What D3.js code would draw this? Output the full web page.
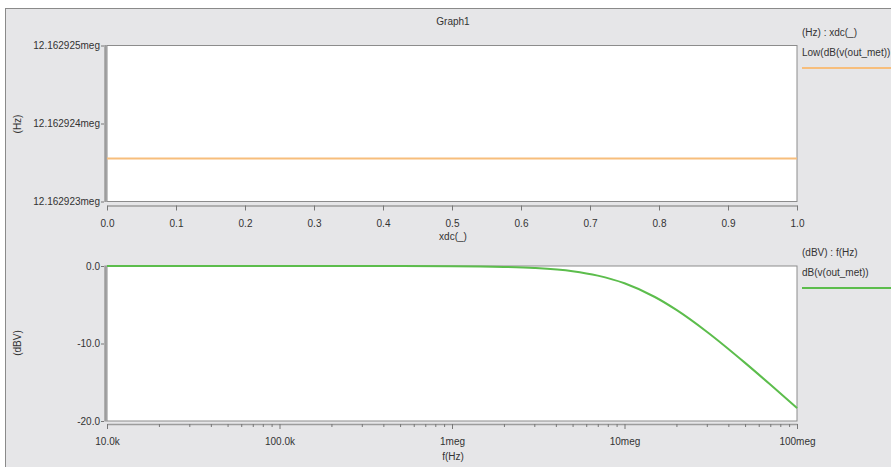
<!DOCTYPE html>
<html>
<head>
<meta charset="utf-8">
<script src="https://cdn.jsdelivr.net/npm/d3@7"></script>
<style>
  body { margin: 0; background: #fff; }
  svg { display: block; font-family: "Liberation Sans", Arial, sans-serif; }
</style>
</head>
<body>
<script>
// Graph1 : sweep result (top) and AC response (bottom)

// top plot data
const xdcVals = [0, 1];
const lowVals = [12162923.55, 12162923.55];
const topXTicks = [0, 0.1, 0.2, 0.3, 0.4, 0.5, 0.6, 0.7, 0.8, 0.9, 1.0];
const topYTicks = [12162923, 12162924, 12162925];

// bottom plot data
const freqs = [1e4, 3e4, 1e5, 3e5, 1e6, 2e6, 3e6, 5e6, 7e6, 1e7, 1.5e7, 2e7, 3e7, 5e7, 7e7, 1e8];
const dbVals = [0, 0, 0, -0.003, -0.03, -0.12, -0.26, -0.67, -1.24, -2.23, -4.0, -5.67, -8.48, -12.5, -15.3, -18.34];
const freqTicks = [1e4, 1e5, 1e6, 1e7, 1e8];
const freqTickLabels = ["10.0k", "100.0k", "1meg", "10meg", "100meg"];
const dbTicks = [0, -10, -20];

const W = 891, H = 467;
const textCol = "#333";
const axisCol = "#9c9c9c";

const svg = d3.select("body").append("svg")
  .attr("width", W)
  .attr("height", H);

// panel
svg.append("rect")
  .attr("x", 5.5).attr("y", 8.5)
  .attr("width", W).attr("height", H)
  .attr("fill", "#e6e6e8")
  .attr("stroke", "#8a8a8a");

svg.append("text")
  .attr("x", 453).attr("y", 25)
  .attr("text-anchor", "middle")
  .attr("font-size", 10)
  .attr("fill", textCol)
  .text("Graph1");

function frame(x0, x1, y0, y1) {
  svg.append("rect")
    .attr("x", x0).attr("y", y0)
    .attr("width", x1 - x0).attr("height", y1 - y0)
    .attr("fill", "#fff")
    .attr("stroke", "#8c8c8c")
    .attr("stroke-width", 1);
  // thick left axis line
  svg.append("line")
    .attr("x1", x0 - 1.5).attr("x2", x0 - 1.5)
    .attr("y1", y0 - 0.5).attr("y2", y1 + 0.5)
    .attr("stroke", axisCol).attr("stroke-width", 2.5);
}

// ---------- top plot ----------
const tx0 = 107, tx1 = 797, ty0 = 45.5, ty1 = 201.5;
frame(tx0, tx1, ty0, ty1);

const xTop = d3.scaleLinear().domain([0, 1]).range([tx0, tx1]);
const yTop = d3.scaleLinear().domain([12162923, 12162925]).range([ty1, ty0]);

const gxTop = svg.append("g")
  .attr("transform", `translate(0,${ty1 + 4})`)
  .call(d3.axisBottom(xTop).tickValues(topXTicks).tickFormat(d => d.toFixed(1)).tickSize(5).tickSizeOuter(0).tickPadding(9));

const gyTop = svg.append("g")
  .attr("transform", `translate(${tx0 - 3},0)`)
  .call(d3.axisLeft(yTop).tickValues(topYTicks)
    .tickFormat(d => (d / 1e6).toFixed(6) + "meg").tickSize(3).tickSizeOuter(0).tickPadding(1));
gyTop.select(".domain").remove();

svg.append("text")
  .attr("x", 453).attr("y", 240)
  .attr("text-anchor", "middle").attr("font-size", 10).attr("fill", textCol)
  .text("xdc(_)");

svg.append("text")
  .attr("transform", "translate(21,124) rotate(-90)")
  .attr("text-anchor", "middle").attr("font-size", 10).attr("fill", textCol)
  .text("(Hz)");

svg.append("path")
  .datum(xdcVals.map((x, i) => [x, lowVals[i]]))
  .attr("fill", "none")
  .attr("stroke", "#f7be7c")
  .attr("stroke-width", 2)
  .attr("d", d3.line().x(d => xTop(d[0])).y(d => yTop(d[1])));

// ---------- bottom plot ----------
const bx0 = 107, bx1 = 797, by0 = 266, by1 = 421;
frame(bx0, bx1, by0, by1);

const xBot = d3.scaleLog().domain([1e4, 1e8]).range([bx0, bx1]);
const yBot = d3.scaleLinear().domain([-20, 0]).range([by1, by0]);

const allFreqTicks = xBot.ticks();
const gxBot = svg.append("g")
  .attr("transform", `translate(0,${by1 + 3})`)
  .call(d3.axisBottom(xBot).tickValues(allFreqTicks)
    .tickFormat(d => {
      const i = freqTicks.indexOf(d);
      return i >= 0 ? freqTickLabels[i] : "";
    })
    .tickSize(5).tickSizeOuter(0).tickPadding(9));
gxBot.selectAll(".tick line")
  .attr("y2", d => freqTicks.indexOf(d) >= 0 ? 5 : 3);

const gyBot = svg.append("g")
  .attr("transform", `translate(${bx0 - 3},0)`)
  .call(d3.axisLeft(yBot).tickValues(dbTicks).tickFormat(d => d.toFixed(1)).tickSize(3).tickSizeOuter(0).tickPadding(1));
gyBot.select(".domain").remove();

svg.append("text")
  .attr("x", 453).attr("y", 460)
  .attr("text-anchor", "middle").attr("font-size", 10).attr("fill", textCol)
  .text("f(Hz)");

svg.append("text")
  .attr("transform", "translate(21,343) rotate(-90)")
  .attr("text-anchor", "middle").attr("font-size", 10).attr("fill", textCol)
  .text("(dBV)");

svg.append("path")
  .datum(freqs.map((f, i) => [f, dbVals[i]]))
  .attr("fill", "none")
  .attr("stroke", "#5cbd4c")
  .attr("stroke-width", 2)
  .attr("d", d3.line().curve(d3.curveMonotoneX).x(d => xBot(d[0])).y(d => yBot(d[1])));

// shared axis styling
svg.selectAll(".domain").attr("stroke", axisCol).attr("stroke-width", 1.5);
svg.selectAll(".tick line").attr("stroke", "#777");
svg.selectAll(".tick text")
  .attr("font-size", 10)
  .attr("fill", textCol)
  .attr("font-family", "Liberation Sans, Arial, sans-serif");

// ---------- legends ----------
function legend(y, title, name, col) {
  svg.append("text").attr("x", 802).attr("y", y)
    .attr("font-size", 10).attr("fill", textCol).text(title);
  svg.append("text").attr("x", 802).attr("y", y + 20)
    .attr("font-size", 10).attr("fill", textCol).text(name);
  svg.append("line")
    .attr("x1", 802).attr("x2", W)
    .attr("y1", y + 32).attr("y2", y + 32)
    .attr("stroke", col).attr("stroke-width", 2);
}
legend(36, "(Hz) : xdc(_)", "Low(dB(v(out_met))", "#f7be7c");
legend(256, "(dBV) : f(Hz)", "dB(v(out_met))", "#5cbd4c");
</script>
</body>
</html>
